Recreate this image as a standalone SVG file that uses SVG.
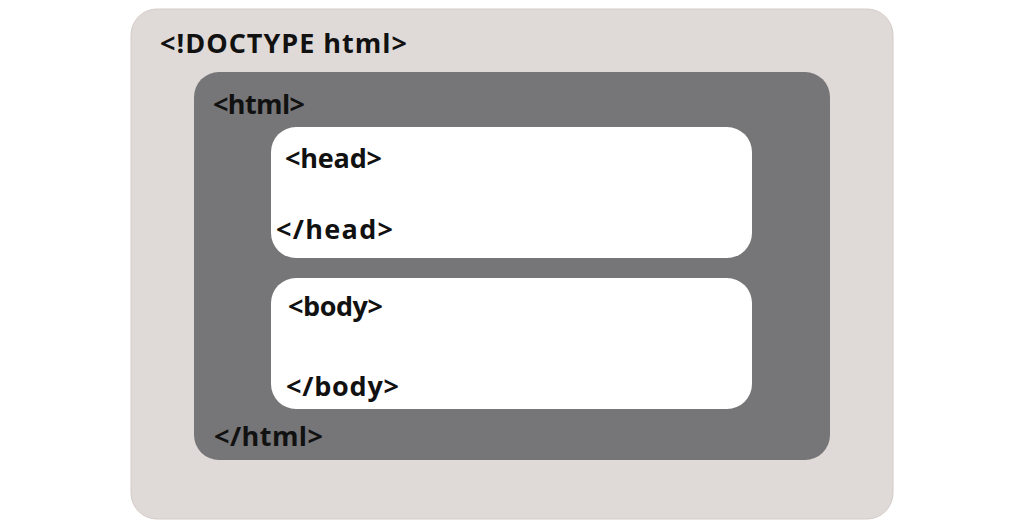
<svg xmlns="http://www.w3.org/2000/svg" width="1024" height="527" viewBox="0 0 1024 527">
<style>
.t{font-family:"Open Sans","DejaVu Sans",sans-serif;font-weight:bold;font-size:27px;fill:#111;}
</style>
<rect x="0" y="0" width="1024" height="527" fill="#ffffff"/>
<g id="doctype">
<rect x="131" y="9" width="762" height="510" rx="26" fill="#dfdad7" stroke="#d2ccc8" stroke-width="1"/>
<text class="t" x="160" y="53" textLength="247" lengthAdjust="spacing">&lt;!DOCTYPE html&gt;</text>
</g>
<g id="html">
<rect x="194" y="72" width="636" height="388" rx="25" fill="#767577"/>
<text class="t" x="213" y="114" textLength="92" lengthAdjust="spacing">&lt;html&gt;</text>
<text class="t" x="214" y="446" textLength="109" lengthAdjust="spacing">&lt;/html&gt;</text>
</g>
<g id="head">
<rect x="271" y="127" width="481" height="131" rx="25" fill="#ffffff"/>
<text class="t" x="285" y="168" textLength="97" lengthAdjust="spacing">&lt;head&gt;</text>
<text class="t" x="276" y="239" textLength="117" lengthAdjust="spacing">&lt;/head&gt;</text>
</g>
<g id="body">
<rect x="271" y="278" width="481" height="131" rx="25" fill="#ffffff"/>
<text class="t" x="288" y="316" textLength="95" lengthAdjust="spacing">&lt;body&gt;</text>
<text class="t" x="286" y="396" textLength="113" lengthAdjust="spacing">&lt;/body&gt;</text>
</g>
<g id="connectors"></g>
</svg>
